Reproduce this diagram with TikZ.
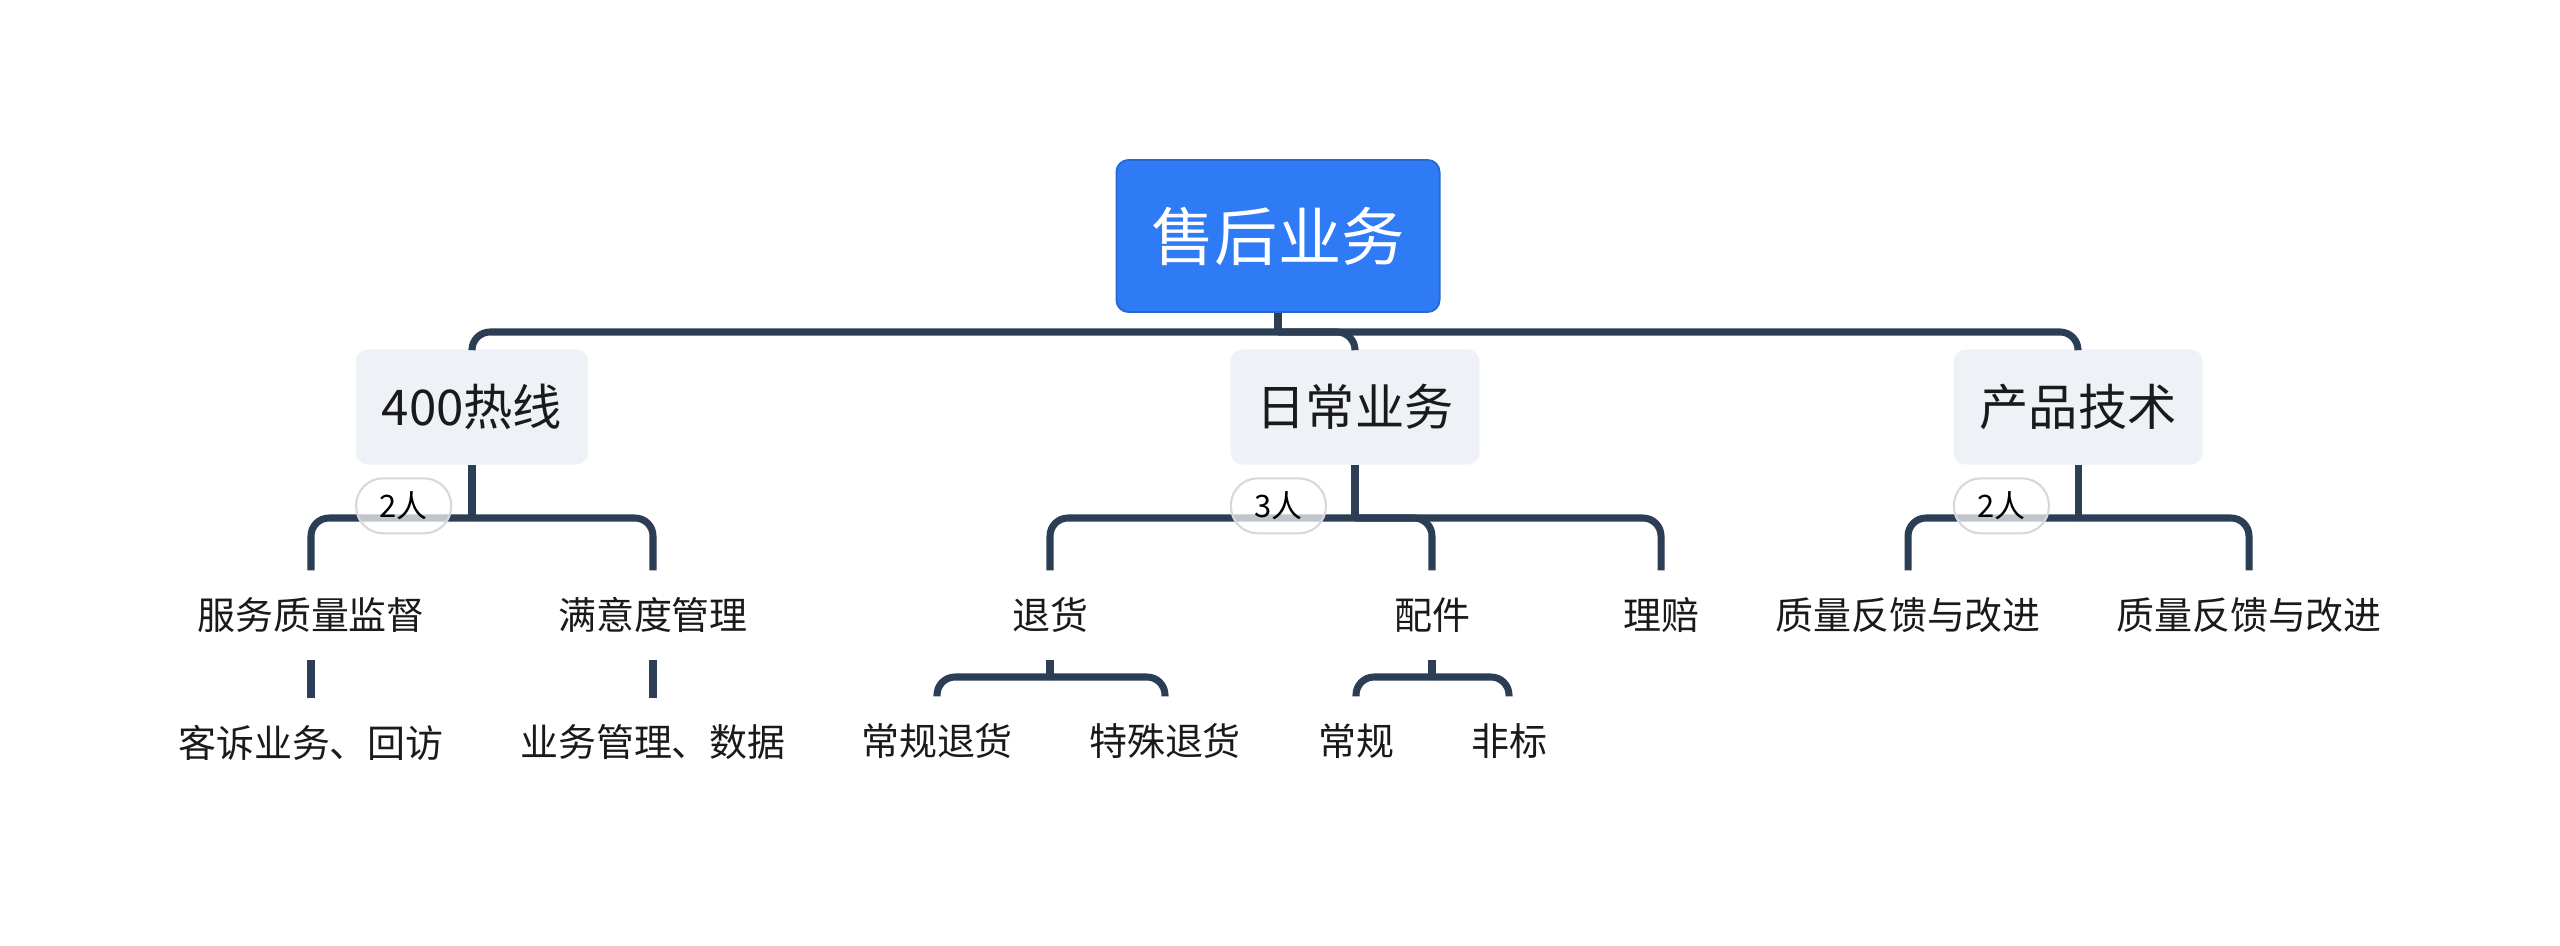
\documentclass[tikz,border=0pt]{standalone}
\usepackage{fontspec}
\setmainfont{Noto Sans CJK SC}
\usetikzlibrary{%
	positioning,%
}
\definecolor{cline}{RGB}{44, 62, 85}
\definecolor{cblue}{RGB}{47, 123, 246}
\definecolor{cgraylight}{RGB}{238, 241, 245}
\definecolor{cbadge}{RGB}{214, 216, 220}
\definecolor{ctext}{RGB}{26, 26, 26}
\tikzset{
	rootnode/.style={%
			fill=cblue,%
			draw=cblue!85!black,%
			line width=0.5pt,%
			rectangle,%
			rounded corners=0.12cm,%
			text=white,%
			font=\fontsize{18}{20}\selectfont,%
			minimum height=1.52cm,%
			inner xsep=0.35cm},%
	topicnode/.style={%
			fill=cgraylight,%
			rectangle,%
			rounded corners=0.12cm,%
			text=ctext,%
			font=\fontsize{14}{16}\selectfont,%
			minimum height=1.15cm,%
			inner xsep=0.26cm},%
	leafnode/.style={%
			text=ctext,%
			font=\fontsize{10.8}{12}\selectfont,%
			minimum height=0.88cm,%
			inner sep=0},%
	badgenode/.style={%
			draw=cbadge,%
			line width=0.6pt,%
			fill=white,%
			fill opacity=0.7,%
			text opacity=1,%
			rounded corners=0.27cm,%
			minimum width=0.95cm,%
			minimum height=0.55cm,%
			font=\fontsize{8.8}{10}\selectfont,%
			inner sep=0},%
	branch/.style={%
			draw=cline,%
			line width=2pt,%
			rounded corners=0.18cm},%
}

\begin{document}
\begin{tikzpicture}[x=0.01cm, y=-0.01cm]%
	\useasboundingbox (0,0) rectangle (2560,945);

	\node[rootnode] (root) at (1278,236) {售后业务};
	\node[topicnode] (hot) at (472,407) {400热线};
	\node[topicnode] (daily) at (1355,407) {日常业务};
	\node[topicnode] (tech) at (2078,407) {产品技术};

	\node[leafnode] (svc) at (311,615) {服务质量监督};
	\node[leafnode] (sat) at (653,615) {满意度管理};
	\node[leafnode] (cmp) [below=0.38cm of svc] {客诉业务、回访};
	\node[leafnode] (mgt) [below=0.38cm of sat] {业务管理、数据};

	\node[leafnode] (ret) at (1050,615) {退货};
	\node[leafnode] (prt) at (1432,615) {配件};
	\node[leafnode] (clm) at (1661,615) {理赔};
	\node[leafnode] (rr) at (937,741) {常规退货};
	\node[leafnode] (sr) at (1165,741) {特殊退货};
	\node[leafnode] (pn) at (1356,741) {常规};
	\node[leafnode] (ps) at (1509,741) {非标};

	\node[leafnode] (fba) at (1908,615) {质量反馈与改进};
	\node[leafnode] (fbb) at (2249,615) {质量反馈与改进};

	\coordinate (rootbus) at (1278,332);
	\coordinate (hotbus) at (472,518);
	\coordinate (dailybus) at (1355,518);
	\coordinate (techbus) at (2078,518);
	\coordinate (retbus) at (1050,677);
	\coordinate (prtbus) at (1432,677);

	\draw[branch] (root) to (rootbus);
	\draw[branch] (rootbus) -| (hot);
	\draw[branch] (rootbus) -| (daily);
	\draw[branch] (rootbus) -| (tech);

	\draw[branch] (hot) to (hotbus);
	\draw[branch] (hotbus) -| (svc);
	\draw[branch] (hotbus) -| (sat);
	\draw[branch] (svc) to (cmp);
	\draw[branch] (sat) to (mgt);

	\draw[branch] (daily) to (dailybus);
	\draw[branch] (dailybus) -| (ret);
	\draw[branch] (dailybus) -| (prt);
	\draw[branch] (dailybus) -| (clm);
	\draw[branch] (ret) to (retbus);
	\draw[branch] (retbus) -| (rr);
	\draw[branch] (retbus) -| (sr);
	\draw[branch] (prt) to (prtbus);
	\draw[branch] (prtbus) -| (pn);
	\draw[branch] (prtbus) -| (ps);

	\draw[branch] (tech) to (techbus);
	\draw[branch] (techbus) -| (fba);
	\draw[branch] (techbus) -| (fbb);

	\node[badgenode, below right=0.12cm and 0cm of hot.south west] (hotcnt) {2人};
	\node[badgenode, below right=0.12cm and 0cm of daily.south west] (dailycnt) {3人};
	\node[badgenode, below right=0.12cm and 0cm of tech.south west] (techcnt) {2人};
\end{tikzpicture}
\end{document}
